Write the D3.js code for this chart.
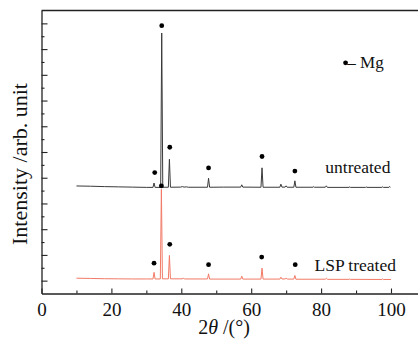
<!DOCTYPE html>
<html>
<head>
<meta charset="utf-8">
<script src="https://cdn.jsdelivr.net/npm/d3@7"></script>
<style>
  body { margin: 0; background: #fff; }
  text { font-family: "Liberation Serif", "Times New Roman", serif; fill: #111; }
</style>
</head>
<body>
<div id="chart"></div>
<script>
// 2theta ticks
var xMajor = [0, 20, 40, 60, 80, 100];
var xMinor = [10, 30, 50, 70, 90];
// intensity ticks (arb. units, no labels)
var yMajor = [1, 3, 5, 7, 9, 11, 13, 15, 17, 19, 21];
var yMinor = [2, 4, 6, 8, 10, 12, 14, 16, 18, 20];

// untreated pattern [2theta, intensity]
var untreated = [
  [10, 8.36], [14, 8.34], [18, 8.31], [22, 8.29], [26, 8.27], [30, 8.25], [31.9, 8.25],
  [32.2, 8.59], [32.5, 8.25], [34.1, 8.25], [34.4, 20.25], [34.7, 8.26], [36.3, 8.26],
  [36.6, 10.44], [36.9, 8.26], [39.8, 8.27], [40.3, 8.31], [40.8, 8.27], [41.5, 8.29],
  [42, 8.26], [47.5, 8.26], [47.8, 8.96], [48.1, 8.26], [52, 8.27], [57.0, 8.27],
  [57.3, 8.45], [57.6, 8.27], [62.8, 8.26], [63.1, 9.77], [63.4, 8.26], [68.2, 8.26],
  [68.5, 8.50], [68.8, 8.27], [69.7, 8.27], [70.0, 8.37], [70.3, 8.26], [72.2, 8.26],
  [72.5, 8.76], [72.8, 8.26], [77.7, 8.26], [77.9, 8.31], [78.1, 8.26], [81.2, 8.26],
  [81.5, 8.37], [81.8, 8.25], [88, 8.25], [88.2, 8.29], [88.4, 8.25], [92.7, 8.25],
  [92.9, 8.29], [93.1, 8.25], [97.4, 8.25], [97.6, 8.29], [97.8, 8.25], [99.4, 8.25],
  [99.6, 8.32], [99.8, 8.25]
];
// LSP treated pattern
var treated = [
  [10, 1.19], [14, 1.17], [18, 1.15], [22, 1.14], [26, 1.13], [30, 1.13], [31.9, 1.13],
  [32.2, 1.64], [32.5, 1.13], [34.0, 1.13], [34.3, 8.10], [34.6, 1.14], [36.3, 1.14],
  [36.6, 2.96], [36.9, 1.14], [40.2, 1.14], [40.6, 1.18], [41, 1.13], [47.5, 1.13],
  [47.8, 1.53], [48.1, 1.12], [57.0, 1.12], [57.3, 1.35], [57.6, 1.12], [62.8, 1.12],
  [63.1, 1.97], [63.4, 1.12], [68.2, 1.12], [68.5, 1.27], [68.8, 1.13], [69.7, 1.13],
  [70.0, 1.19], [70.3, 1.12], [72.2, 1.12], [72.5, 1.40], [72.8, 1.11], [81.2, 1.11],
  [81.5, 1.19], [81.8, 1.10], [88, 1.10], [88.2, 1.13], [88.4, 1.10], [97.4, 1.09],
  [97.6, 1.13], [97.8, 1.09], [100, 1.09]
];
// Mg peak markers
var untreatedMarks = [[32.4, 9.40], [34.4, 20.82], [36.7, 11.37], [47.8, 9.76], [63.1, 10.65], [72.5, 9.52]];
var treatedMarks = [[32.2, 2.36], [34.3, 8.36], [36.7, 3.82], [47.8, 2.24], [63.0, 2.83], [72.6, 2.24]];

var width = 418, height = 340;
var plotLeft = 41.5, plotTop = 10.5, plotBottom = 293.5;

var svg = d3.select("#chart").append("svg")
    .attr("width", width)
    .attr("height", height);

var x = d3.scaleLinear().domain([0, 108.3]).range([plotLeft, 420]);
var y = d3.scaleLinear().domain([0, 22]).range([plotBottom, plotTop]);

// axes with inward ticks
var axisColor = "#222";

var xAxisMajor = svg.append("g")
    .attr("transform", "translate(0," + plotBottom + ")")
    .call(d3.axisBottom(x).tickValues(xMajor).tickSizeInner(-5).tickSizeOuter(0).tickPadding(9));
var xAxisMinor = svg.append("g")
    .attr("transform", "translate(0," + plotBottom + ")")
    .call(d3.axisBottom(x).tickValues(xMinor).tickSizeInner(-3).tickSizeOuter(0).tickFormat(""));
xAxisMinor.select(".domain").remove();

var yAxisMajor = svg.append("g")
    .attr("transform", "translate(" + plotLeft + ",0)")
    .call(d3.axisLeft(y).tickValues(yMajor).tickSizeInner(-6).tickSizeOuter(0).tickFormat(""));
var yAxisMinor = svg.append("g")
    .attr("transform", "translate(" + plotLeft + ",0)")
    .call(d3.axisLeft(y).tickValues(yMinor).tickSizeInner(-3).tickSizeOuter(0).tickFormat(""));
yAxisMinor.select(".domain").remove();

svg.selectAll(".domain").attr("stroke", axisColor).attr("stroke-width", 1.3);
svg.selectAll(".tick line").attr("stroke", axisColor).attr("stroke-width", 1.1);
svg.selectAll(".tick text")
    .style("font-family", "Liberation Serif, serif")
    .style("font-size", "19px")
    .attr("fill", "#111");

// top frame line
svg.append("line")
    .attr("x1", plotLeft).attr("x2", 420)
    .attr("y1", plotTop).attr("y2", plotTop)
    .attr("stroke", axisColor).attr("stroke-width", 1.3);

// patterns
var line = d3.line()
    .x(function(d){ return x(d[0]); })
    .y(function(d){ return y(d[1]); });

svg.append("path")
    .datum(untreated)
    .attr("d", line)
    .attr("fill", "none")
    .attr("stroke", "#3a3a3a")
    .attr("stroke-width", 1);

svg.append("path")
    .datum(treated)
    .attr("d", line)
    .attr("fill", "none")
    .attr("stroke", "#f27a66")
    .attr("stroke-width", 1);

// peak markers
svg.selectAll(".mark")
    .data(untreatedMarks.concat(treatedMarks))
    .enter()
    .append("circle")
    .attr("class", "mark")
    .attr("cx", function(d){ return x(d[0]); })
    .attr("cy", function(d){ return y(d[1]); })
    .attr("r", 2.4)
    .attr("fill", "#000");

// series labels
svg.append("text")
    .attr("x", x(81.2)).attr("y", y(9.38))
    .style("font-size", "17.5px")
    .text("untreated");

svg.append("text")
    .attr("x", x(78.1)).attr("y", y(1.72))
    .style("font-size", "17.5px")
    .text("LSP treated");

// legend
svg.append("circle")
    .attr("cx", x(87.0)).attr("cy", y(17.93))
    .attr("r", 2.4)
    .attr("fill", "#000");
svg.append("text")
    .attr("x", x(87.5)).attr("y", y(17.52))
    .style("font-size", "17px")
    .text("– Mg");

// axis titles
var xt = svg.append("text")
    .attr("x", 224).attr("y", 334)
    .attr("text-anchor", "middle")
    .style("font-size", "20px");
xt.append("tspan").text("2");
xt.append("tspan").style("font-style", "italic").text("θ");
xt.append("tspan").text(" /(°)");

svg.append("text")
    .attr("transform", "translate(27,164) rotate(-90)")
    .attr("text-anchor", "middle")
    .style("font-size", "22px")
    .text("Intensity /arb. unit");
</script>
</body>
</html>
